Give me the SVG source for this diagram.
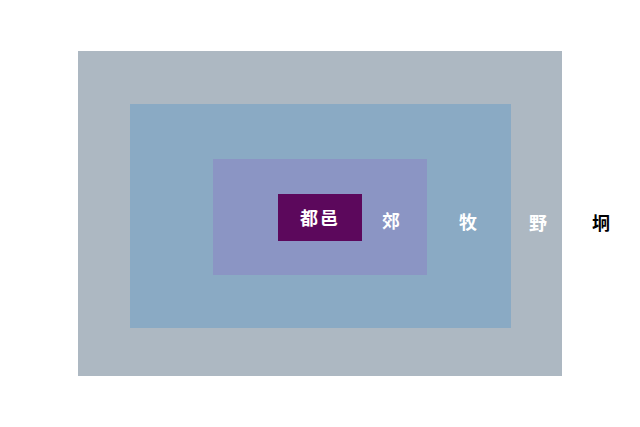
<svg xmlns="http://www.w3.org/2000/svg" width="640" height="427" viewBox="0 0 640 427">
<style>
text{font-family:"Noto Sans CJK SC","Noto Sans CJK TC",sans-serif;font-weight:bold;font-size:18px;text-anchor:middle;dominant-baseline:central}
.w{fill:#ffffff}
.k{fill:#000000}
</style>
<rect width="640" height="427" fill="#ffffff"/>
<g id="jiong"><text class="k" x="601" y="222">坰</text></g>
<g id="ye"><rect x="78" y="51" width="484" height="325" fill="#adb8c2"/><text class="w" x="538" y="222">野</text></g>
<g id="mu"><rect x="130" y="104" width="381" height="224" fill="#8aaac4"/><text class="w" x="468" y="221">牧</text></g>
<g id="jiao"><rect x="213" y="159" width="214" height="116" fill="#8b95c4"/><text class="w" x="391" y="220">郊</text></g>
<g id="duyi"><rect x="278" y="194" width="84" height="47" fill="#5c085c"/><text class="w" x="320" y="217" letter-spacing="2">都邑</text></g>
<g id="connectors"/>
</svg>
